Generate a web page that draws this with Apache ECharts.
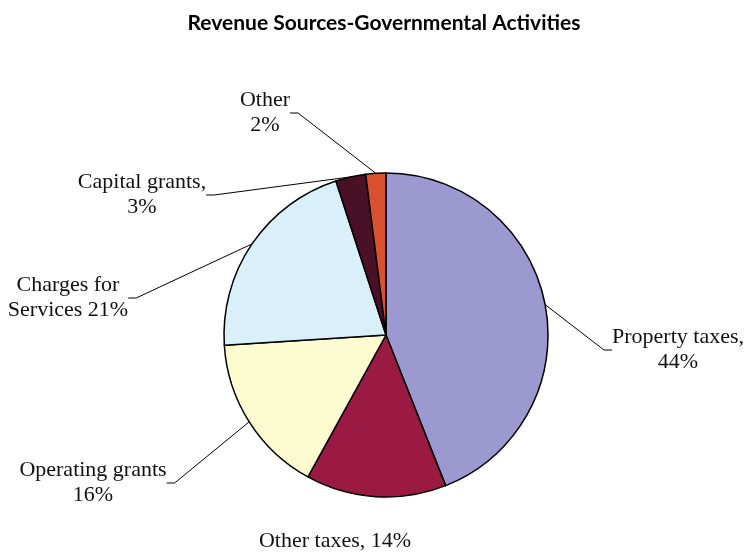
<!DOCTYPE html>
<html>
<head>
<meta charset="utf-8">
<script src="https://cdn.jsdelivr.net/npm/echarts@6/dist/echarts.min.js"></script>
<style>html,body{margin:0;padding:0;background:#fff}#c{width:745px;height:555px}</style>
</head>
<body>
<div id="c"></div>
<script>
const titleText = 'Revenue Sources-Governmental Activities';
const categories = ['Property taxes', 'Other taxes', 'Operating grants', 'Charges for Services', 'Capital grants', 'Other'];
const values = [44, 14, 16, 21, 3, 2];
const labelTexts = ['Property taxes,\n44%', 'Other taxes, 14%', 'Operating grants\n16%', 'Charges for\nServices 21%', 'Capital grants,\n3%', 'Other\n2%'];
const colors = ['#9c99d1', '#9a1a44', '#fdfbd0', '#d9f0fb', '#4a1026', '#d9512f'];
const labelPos = [[678, 350], [335, 541], [93, 483], [68, 298], [142, 195], [265, 113]];

const chart = echarts.init(document.getElementById('c'), null, {renderer: 'canvas'});
chart.setOption({
  animation: false,
  backgroundColor: '#ffffff',
  title: {
    text: titleText, left: 379, top: 8, textAlign: 'center',
    textStyle: {fontFamily: 'Lato', fontWeight: 'bold', fontSize: 21, color: '#000'}
  },
  series: [{
    type: 'pie',
    center: [386, 335],
    radius: 162,
    startAngle: 90,
    clockwise: true,
    itemStyle: {borderColor: '#000', borderWidth: 1.5},
    label: {
      show: true,
      formatter: p => labelTexts[p.dataIndex],
      fontFamily: 'Liberation Serif',
      fontSize: 22,
      lineHeight: 25,
      color: '#111',
      align: 'center'
    },
    labelLine: {show: true, length: 20, length2: 8, lineStyle: {color: '#000', width: 1}},
    labelLayout: function (params) {
      const p = labelPos[params.dataIndex];
      return {x: p[0], y: p[1], align: 'center', verticalAlign: 'middle'};
    },
    emphasis: {disabled: true},
    data: categories.map((c, i) => ({
      name: c,
      value: values[i],
      itemStyle: {color: colors[i]},
      labelLine: {show: i !== 1}
    }))
  }]
});
</script>
</body>
</html>
